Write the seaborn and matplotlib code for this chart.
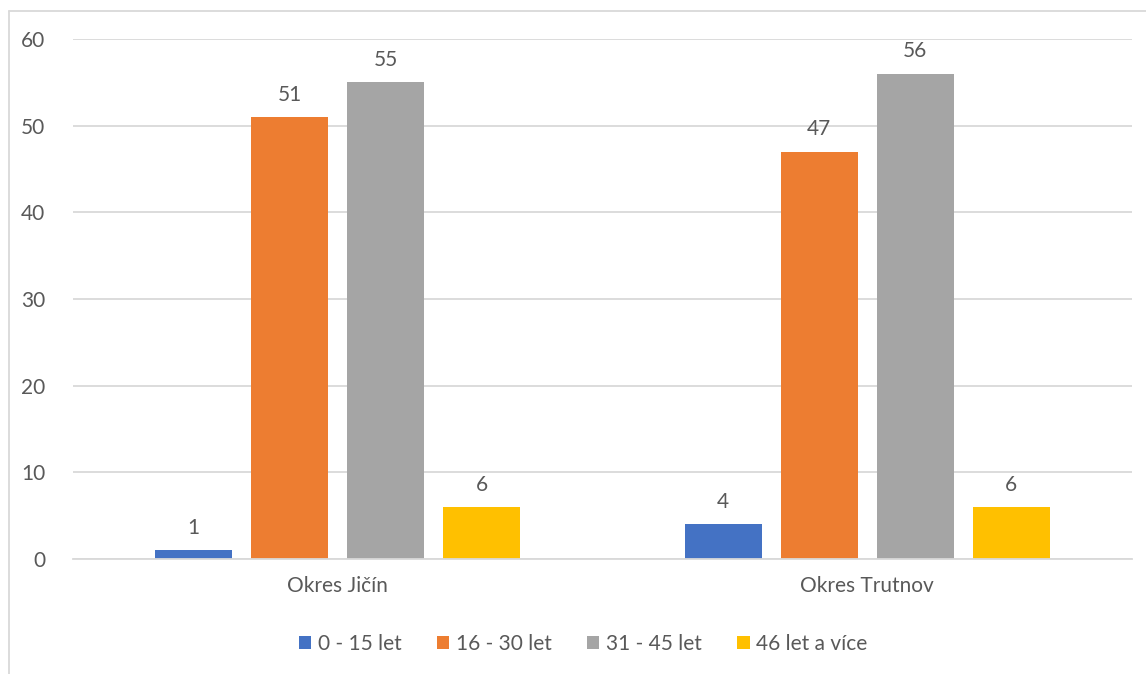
import numpy as np
import pandas as pd
import matplotlib.pyplot as plt
import seaborn as sns
from matplotlib.lines import Line2D

districts = ['Okres Jičín', 'Okres Trutnov']
age_groups = ['0 - 15 let', '16 - 30 let', '31 - 45 let', '46 let a více']
jicin = [1, 51, 55, 6]
trutnov = [4, 47, 56, 6]
colors = ['#4472C4', '#ED7D31', '#A5A5A5', '#FFC000']

df = pd.DataFrame({
    'okres': [districts[0]] * 4 + [districts[1]] * 4,
    'vek': age_groups * 2,
    'pocet': jicin + trutnov,
})

sns.set_style('white')
plt.rcParams['font.family'] = ['Lato', 'DejaVu Sans']
txt = '#595959'
fs = 15

fig = plt.figure(figsize=(11.46, 6.74), dpi=100)
ax = fig.add_axes([0.0637, 0.1706, 0.9241, 0.7715])

sns.barplot(data=df, x='okres', y='pocet', hue='vek', hue_order=age_groups,
            palette=colors, width=0.725, gap=0.2, ax=ax, saturation=1,
            linewidth=0)

for c in ax.containers:
    ax.bar_label(c, padding=9, fontsize=fs, color=txt)

ax.set_ylim(0, 60)
ax.set_xlim(-0.5, 1.5)
ax.set_yticks(range(0, 61, 10))
ax.yaxis.grid(True, color='#D9D9D9', linewidth=1.3)
ax.set_axisbelow(True)
for s in ['top', 'right', 'left']:
    ax.spines[s].set_visible(False)
ax.spines['bottom'].set_color('#D9D9D9')
ax.spines['bottom'].set_linewidth(1.3)
ax.tick_params(axis='both', length=0, labelsize=fs, labelcolor=txt)
ax.tick_params(axis='y', pad=20)
ax.tick_params(axis='x', pad=12)
ax.set_xlabel('')
ax.set_ylabel('')

handles, labels = ax.get_legend_handles_labels()
ax.legend(handles, labels, loc='center', bbox_to_anchor=(583 / 1146, 1 - 644 / 674),
          bbox_transform=fig.transFigure, ncol=4, frameon=False, fontsize=fs,
          handlelength=0.6, handleheight=0.6, handletextpad=0.3, columnspacing=1.7,
          labelcolor=txt)

# chart border (left and top edges)
fig.add_artist(Line2D([9 / 1146, 9 / 1146], [0, 1 - 11 / 674], color='#D9D9D9', lw=1.3))
fig.add_artist(Line2D([9 / 1146, 1], [1 - 11 / 674, 1 - 11 / 674], color='#D9D9D9', lw=1.3))

fig.savefig('out.png', dpi=100)
